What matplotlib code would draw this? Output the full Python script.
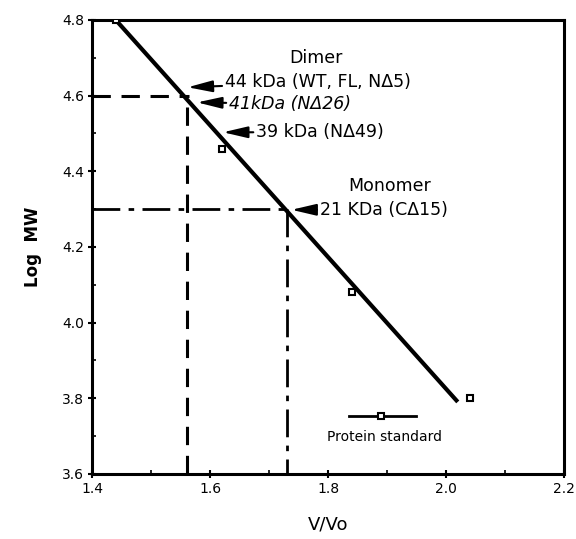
import matplotlib.pyplot as plt
from matplotlib.ticker import MultipleLocator

# protein standards (V/Vo, log MW)
std_x = [1.44, 1.62, 1.84, 2.04]
std_y = [4.80, 4.46, 4.08, 3.80]

# fitted calibration line end points
fit_x = [1.44, 2.02]
fit_y = [4.80, 3.79]

# dimer / monomer read-off positions
dimer_x, dimer_y = 1.56, 4.60
mono_x, mono_y = 1.73, 4.30

# annotations: (label, text x, text y, arrow tip x, tip y, italic)
ANNOT = [
    ("44 kDa (WT, FL, N\u03945)", 1.625, 4.635, 1.562, 4.622, False),
    ("41kDa (N\u039426)", 1.632, 4.578, 1.578, 4.582, True),
    ("39 kDa (N\u039449)", 1.678, 4.503, 1.622, 4.503, False),
    ("21 KDa (C\u039415)", 1.786, 4.298, 1.738, 4.298, False),
]

fig = plt.figure(figsize=(5.76, 5.39), dpi=100)
ax = fig.add_axes([0.16, 0.121, 0.819, 0.842])

ax.plot(fit_x, fit_y, color="black", lw=3, solid_capstyle="butt", zorder=3)
ax.plot(std_x, std_y, ls="none", marker="s", ms=5, mfc="white", mec="black",
        mew=1.5, zorder=4)

# dimer read-off (dashed)
ax.plot([1.4, dimer_x + 0.005], [dimer_y, dimer_y], color="black", lw=2.2,
        dashes=(6, 3.5))
ax.plot([dimer_x, dimer_x], [dimer_y - 0.03, 3.6], color="black", lw=2.2,
        dashes=(6, 3.5))
# monomer read-off (dash-dot)
ax.plot([1.4, mono_x], [mono_y, mono_y], color="black", lw=2.0,
        dashes=(10, 3, 2, 3))
ax.plot([mono_x, mono_x], [mono_y, 3.6], color="black", lw=2.0,
        dashes=(10, 3, 2, 3))

ax.text(1.78, 4.70, "Dimer", fontsize=12.5, ha="center", va="center")
ax.text(1.905, 4.36, "Monomer", fontsize=12.5, ha="center", va="center")
for label, tx, ty, hx, hy, ital in ANNOT:
    ax.annotate(label, xy=(hx, hy), xytext=(tx, ty), fontsize=12.5,
                ha="left", va="center", style="italic" if ital else "normal",
                arrowprops=dict(arrowstyle="-|>,head_length=1.2,head_width=0.28",
                                color="black", lw=1.5, shrinkA=0, shrinkB=0))

# legend drawn by hand like the original
ax.plot([1.835, 1.95], [3.752, 3.752], color="black", lw=2)
ax.plot([1.89], [3.752], ls="none", marker="s", ms=5, mfc="white", mec="black",
        mew=1.5)
ax.text(1.895, 3.698, "Protein standard", fontsize=10, ha="center", va="center")

ax.set_xlim(1.4, 2.2)
ax.set_ylim(3.6, 4.8)
ax.xaxis.set_major_locator(MultipleLocator(0.2))
ax.xaxis.set_minor_locator(MultipleLocator(0.1))
ax.yaxis.set_major_locator(MultipleLocator(0.2))
ax.yaxis.set_minor_locator(MultipleLocator(0.1))
ax.xaxis.set_major_formatter(lambda v, p: f"{v:.1f}")
ax.yaxis.set_major_formatter(lambda v, p: f"{v:.1f}")
ax.tick_params(which="major", direction="inout", length=6, width=1.5,
               labelsize=10, pad=3)
ax.tick_params(which="minor", direction="in", length=3, width=1.2)
for s in ax.spines.values():
    s.set_linewidth(2.2)

ax.set_xlabel("V/Vo", fontsize=13, labelpad=14)
ax.set_ylabel("Log  MW", fontsize=12, fontweight="bold", labelpad=14)

fig.savefig("out.png", dpi=100)
